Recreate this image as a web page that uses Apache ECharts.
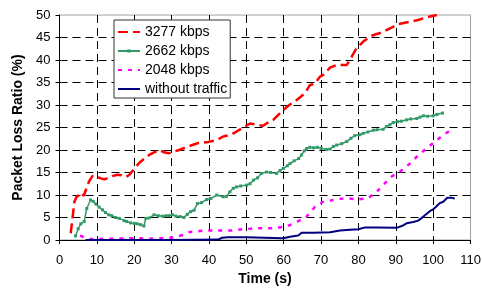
<!DOCTYPE html>
<html>
<head>
<meta charset="utf-8">
<script src="https://cdn.jsdelivr.net/npm/echarts@6/dist/echarts.min.js"></script>
<style>
  html, body { margin: 0; padding: 0; background: #fff; }
  #chart { width: 482px; height: 290px; }
</style>
</head>
<body>
<div id="chart"></div>
<script>
// 数据：[时间(s), 丢包率(%)]
const seriesNames = ['3277 kbps', '2662 kbps', '2048 kbps', 'without traffic']
const xTicks = [0, 10, 20, 30, 40, 50, 60, 70, 80, 90, 100, 110]
const yTicks = [0, 5, 10, 15, 20, 25, 30, 35, 40, 45, 50]

const loss3277 = [
  [3, 1.5], [3.5, 5], [4, 8.5], [4.5, 9.5], [5.2, 10], [5.8, 10.5], [6.5, 9.8], [7, 11],
  [7.9, 13], [8.8, 14.2], [9.8, 14.2], [11, 13.7], [12, 13.5], [13.3, 13.8], [14.1, 14.2],
  [15.5, 14.5], [16.5, 14.4], [17.7, 14], [18.6, 14.4], [19.5, 15.3], [20.4, 16.3],
  [21.7, 17.4], [24, 18.9], [26.6, 20], [28, 19.5], [29.3, 19.3], [32, 20], [34.2, 20.7],
  [36.9, 21.5], [39.8, 21.8], [42.1, 22.2], [43.8, 23], [45.6, 23.3], [47.4, 24.1],
  [50, 25.4], [51, 25.9], [52.8, 25.6], [54.5, 25.4], [55.4, 25.9], [57.2, 26.7],
  [59.9, 28.9], [61.5, 30], [63.5, 31.1], [65.7, 32.6], [67, 34.4], [68.4, 34.8],
  [69.7, 36.3], [70.6, 36.7], [72.4, 38.3], [74.2, 38.9], [76.9, 38.9], [77.7, 40],
  [79.5, 42.6], [81.3, 44.1], [83.5, 45.4], [85.8, 46], [88.4, 47], [90.7, 48],
  [93.8, 48.5], [96, 48.9], [98.3, 49.5], [101, 50]
]

const loss2662 = [
  [4.3, 0.9], [5, 2.5], [5.7, 3.6], [6.6, 4.1], [7.3, 7], [8.3, 8.9], [9, 8.6], [9.7, 8],
  [10.6, 7.3], [11.5, 6.7], [12.3, 6.1], [13.2, 5.6], [14, 5.4], [15, 5], [16, 4.8],
  [17.3, 4.3], [18, 4.1], [19, 3.8], [20, 3.7], [20.8, 3.6], [21.7, 3.4], [22.6, 3.1],
  [23.1, 4.8], [24, 4.9], [25.3, 5.6], [26.4, 5.4], [27.5, 5.3], [28.5, 5.4], [29.3, 5.4],
  [30.2, 5.6], [31.2, 5.3], [32.3, 5.2], [33.3, 5], [34.2, 5.7], [35.1, 6.3], [36, 6.6],
  [36.9, 8.1], [38, 8.3], [39.4, 9], [40.5, 9.2], [42.1, 10], [43.8, 9.6], [44.7, 9.7],
  [45.6, 10.7], [46.5, 11.5], [47.4, 11.8], [48.5, 12], [50.1, 12.2], [51, 12.5],
  [51.9, 13.3], [53, 13.8], [54, 14.8], [55.4, 15.1], [56.5, 15], [58.1, 14.8], [59, 15.4],
  [59.9, 15.9], [61, 16.5], [61.7, 17], [62.8, 17.6], [64, 18.1], [64.8, 18.9], [65.5, 19.8],
  [66.1, 20.3], [67, 20.6], [68, 20.5], [69, 20.6], [70, 20.4], [71.5, 20.1], [72.4, 20.2],
  [73.3, 20.8], [74.2, 21.1], [75.5, 21.4], [76.9, 21.9], [78, 22.6], [79, 23.2], [80.4, 23.4],
  [81.3, 23.7], [82.5, 24], [84, 24.4], [85, 24.5], [86.6, 24.6], [87.5, 25.2], [88.4, 25.6],
  [89.3, 26.1], [90.5, 26.3], [91.5, 26.4], [92.9, 26.7], [94, 26.9], [95.6, 27], [96.5, 27.3],
  [97.4, 27.6], [98.5, 27.5], [100, 27.6], [101, 27.9], [102.5, 28.2]
]

const loss2048 = [
  [5.5, 1], [6.5, 0.6], [8, 0.2], [10, 0.2], [15, 0.3], [20, 0.4], [25, 0.3], [30, 0.5],
  [31.5, 0.8], [33, 1.1], [34.9, 1.8], [36.7, 1.9], [39, 2.1], [42, 2.1], [46, 2.1],
  [49.2, 2.4], [52.8, 2.6], [57.2, 2.6], [60.8, 3], [63.5, 4], [66.1, 5.2], [67.5, 6.5],
  [68.4, 7.4], [70.6, 8.5], [73.3, 8.9], [76.4, 9.3], [80, 9], [82.6, 9.3], [84.9, 10.7],
  [86.6, 12.2], [88.9, 14.1], [91.1, 15.2], [93.8, 17], [95.6, 18.5], [98.3, 20.4],
  [100.5, 21.9], [102.7, 23.3], [105.4, 24.8]
]

const lossNone = [
  [7, 0], [20, 0], [30, 0], [42.5, 0.1], [43.5, 0.5], [45, 0.6], [50, 0.6], [55, 0.5],
  [59.9, 0.4], [61.7, 0.7], [63.9, 1], [64.8, 1.6], [68, 1.6], [72.4, 1.7], [75.1, 2.1],
  [77.7, 2.3], [80, 2.4], [81.8, 2.8], [84.9, 2.8], [90.2, 2.7], [91.6, 3.1], [92.9, 3.7],
  [94.7, 4], [96, 4.3], [97.4, 5.2], [99.1, 6.4], [100, 6.8], [101.8, 8.2], [102.7, 8.5],
  [103.8, 9.4], [104.9, 9.4], [105.8, 9.2]
]

const chart = echarts.init(document.getElementById('chart'), null, { renderer: 'canvas' })
const font = 'Liberation Sans, Arial, sans-serif'
const axisCommon = {
  nameLocation: 'middle',
  nameTextStyle: { fontSize: 14, fontWeight: 'bold', color: '#000', fontFamily: font },
  axisLine: { show: true, onZero: false, lineStyle: { color: '#000', width: 1 } },
  axisTick: { show: true, length: 4, lineStyle: { color: '#000' } },
  splitLine: { show: true, showMinLine: false, showMaxLine: false,
    lineStyle: { color: '#000', type: [8, 5], width: 1 } }
}

chart.setOption({
  animation: false,
  textStyle: { fontFamily: font },
  grid: {
    left: 59.5, right: 11.5, top: 15, bottom: 50,
    outerBoundsMode: 'none', containLabel: false,
    show: true, borderColor: '#a0a0a0', borderWidth: 1, backgroundColor: '#fff'
  },
  legend: {
    orient: 'vertical',
    left: 114, top: 20,
    padding: [4, 3, 1, 3],
    itemWidth: 22, itemHeight: 4, itemGap: 3, itemTextGap: 3,
    backgroundColor: '#fff',
    borderColor: '#333', borderWidth: 1,
    textStyle: { fontSize: 14, lineHeight: 16, color: '#000', fontFamily: font },
    data: [
      { name: seriesNames[0], itemStyle: { opacity: 0 } },
      { name: seriesNames[1] },
      { name: seriesNames[2], itemStyle: { opacity: 0 } },
      { name: seriesNames[3], itemStyle: { opacity: 0 } }
    ]
  },
  xAxis: Object.assign({}, axisCommon, {
    type: 'value', min: xTicks[0], max: xTicks[xTicks.length - 1], interval: 10,
    name: 'Time (s)', nameGap: 31,
    axisLabel: { fontSize: 13, color: '#000', margin: 14, fontFamily: font }
  }),
  yAxis: Object.assign({}, axisCommon, {
    type: 'value', min: yTicks[0], max: yTicks[yTicks.length - 1], interval: 5,
    name: 'Packet Loss Ratio (%)', nameGap: 27,
    axisLabel: { fontSize: 13, color: '#000', margin: 9, fontFamily: font }
  }),
  series: [
    {
      name: seriesNames[0], type: 'line', data: loss3277, showSymbol: false, symbol: 'none',
      lineStyle: { color: '#ff0000', width: 2.5, type: [10, 5] },
      itemStyle: { color: '#ff0000' }, z: 4
    },
    {
      name: seriesNames[1], type: 'line', data: loss2662,
      symbol: 'rect', symbolSize: 3, showSymbol: true,
      lineStyle: { color: '#339966', width: 1.5 },
      itemStyle: { color: '#339966' }, z: 3
    },
    {
      name: seriesNames[2], type: 'line', data: loss2048, showSymbol: false, symbol: 'none',
      lineStyle: { color: '#ff00ff', width: 2.5, type: [4, 6] },
      itemStyle: { color: '#ff00ff' }, z: 2
    },
    {
      name: seriesNames[3], type: 'line', data: lossNone, showSymbol: false, symbol: 'none',
      lineStyle: { color: '#000080', width: 2 },
      itemStyle: { color: '#000080' }, z: 2
    }
  ]
})
</script>
</body>
</html>
